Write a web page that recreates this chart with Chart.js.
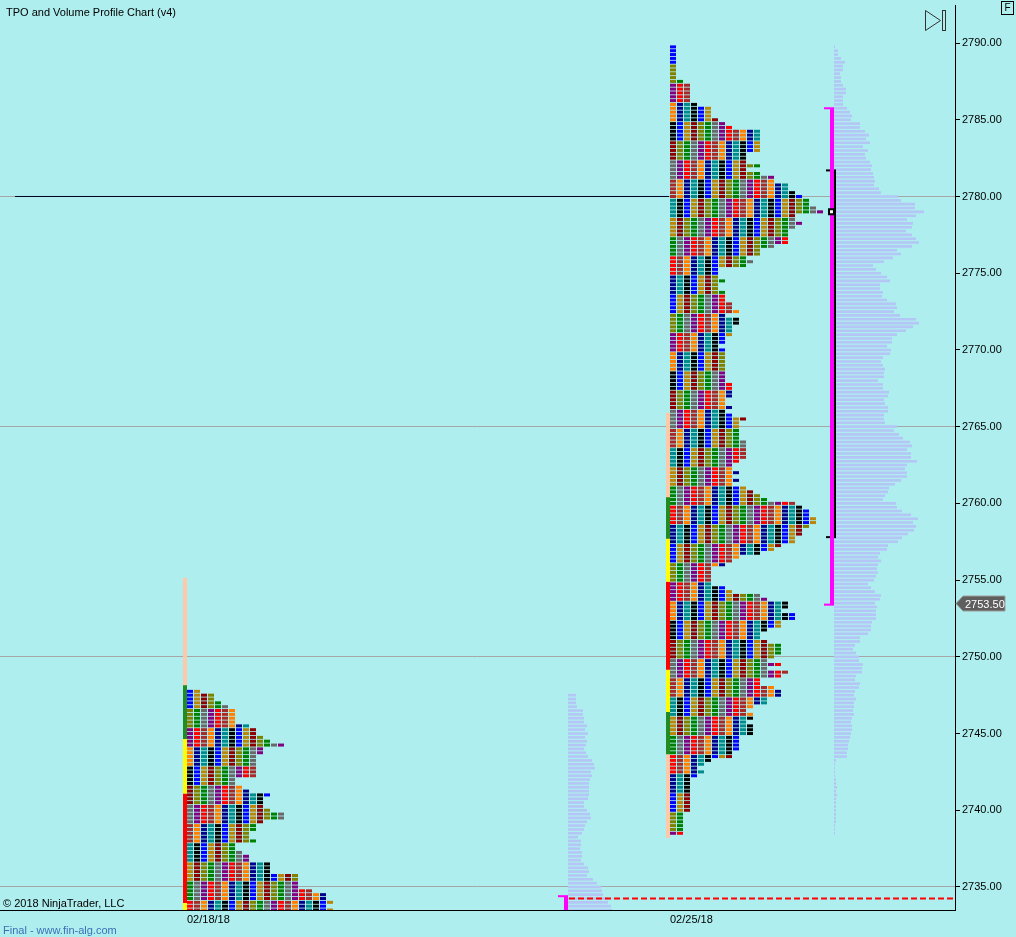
<!DOCTYPE html>
<html>
<head>
<meta charset="utf-8">
<title>TPO and Volume Profile Chart (v4)</title>
<script src="https://cdn.jsdelivr.net/npm/chart.js@4.4.1/dist/chart.umd.min.js"></script>
<style>
  html, body { margin: 0; padding: 0; background: #afeeee; }
  #wrap { position: relative; width: 1016px; height: 937px; }
</style>
</head>
<body>
<div id="wrap"><canvas id="tpo" width="1016" height="937"></canvas></div>
<script>
// ---- data ----
const TICK = 0.25;
const sessionDates = ['02/18/18', '02/25/18'];

// 02/18 session (partly below the visible range)
const leftTpoTop = 2747.75;
const leftTpoCounts = [
  2, 4, 4, 5, 6, 7, 7, 7, 7, 9,
  10, 10, 11, 12, 14, 11, 11, 10, 10, 10,
  10, 10, 10, 7, 7, 8, 9, 12, 11, 11,
  11, 12, 14, 14, 11, 10, 10, 9, 9, 10,
  7, 7, 8, 9, 9, 12, 12, 12, 16, 16,
  16, 16, 18, 20, 20, 21, 20, 21
];
const leftVolTop = 2747.5;
const leftVolume = [
  8, 8, 8, 9, 15, 15, 16, 16, 19, 17,
  20, 17, 19, 18, 16, 18, 20, 24, 26, 27,
  23, 24, 22, 21, 21, 21, 21, 20, 16, 16,
  19, 22, 23, 19, 17, 16, 14, 10, 13, 13,
  12, 14, 14, 13, 16, 20, 21, 19, 25, 29,
  33, 34, 35, 40, 40, 43, 44
];

// 02/25 session
const rightTpoTop = 2789.75;
const rightTpoCounts = [
  1, 1, 1, 1, 1, 1, 1, 1, 1, 2,
  3, 3, 3, 3, 3, 4, 6, 6, 6, 7,
  8, 9, 13, 13, 13, 13, 13, 13, 11, 11,
  11, 13, 11, 13, 15, 15, 17, 17, 18, 19,
  20, 20, 21, 22, 18, 18, 19, 18, 17, 17,
  17, 17, 15, 13, 13, 11, 12, 11, 7, 7,
  7, 8, 7, 7, 8, 8, 8, 9, 9, 10,
  8, 10, 10, 9, 9, 9, 8, 8, 7, 8,
  8, 8, 8, 8, 8, 8, 8, 8, 9, 9,
  9, 9, 8, 8, 9, 8, 9, 11, 10, 10,
  10, 10, 10, 11, 11, 11, 11, 11, 10, 9,
  9, 10, 9, 10, 9, 11, 12, 13, 14, 18,
  19, 20, 20, 21, 21, 20, 19, 19, 18, 18,
  16, 15, 13, 10, 9, 8, 6, 6, 6, 6,
  6, 8, 9, 13, 14, 17, 17, 16, 18, 18,
  16, 16, 14, 13, 13, 14, 16, 16, 16, 15,
  14, 16, 14, 17, 16, 13, 13, 15, 16, 16,
  14, 14, 12, 11, 12, 12, 11, 12, 12, 12,
  10, 10, 10, 10, 9, 9, 6, 5, 4, 5,
  4, 3, 3, 3, 3, 3, 3, 3, 3, 3,
  2, 2, 2, 2, 2, 2
];
const rightVolTop = 2789.75;
const rightVolume = [
  1, 4, 4, 7, 11, 9, 9, 6, 7, 7,
  9, 12, 12, 9, 9, 9, 13, 16, 18, 17,
  26, 26, 31, 35, 32, 36, 29, 34, 31, 32,
  36, 38, 37, 39, 40, 41, 40, 45, 47, 64,
  67, 81, 81, 90, 82, 73, 79, 78, 72, 78,
  82, 85, 78, 63, 67, 59, 50, 39, 42, 47,
  53, 56, 46, 46, 49, 48, 53, 62, 63, 60,
  66, 82, 85, 79, 72, 63, 58, 58, 53, 57,
  56, 49, 47, 49, 51, 50, 50, 44, 49, 49,
  55, 54, 50, 51, 54, 54, 50, 50, 51, 63,
  60, 65, 69, 76, 78, 73, 77, 77, 83, 73,
  71, 73, 73, 67, 61, 55, 54, 51, 49, 62,
  63, 68, 77, 84, 79, 82, 80, 74, 68, 64,
  54, 53, 46, 44, 47, 44, 43, 44, 42, 40,
  34, 37, 41, 47, 46, 41, 43, 42, 42, 42,
  38, 37, 37, 34, 26, 26, 21, 19, 22, 25,
  25, 29, 28, 28, 22, 21, 26, 25, 21, 20,
  22, 20, 20, 19, 20, 18, 17, 18, 18, 17,
  16, 15, 14, 14, 13, 13, 2, 1, 1, 1,
  1, 2, 2, 3, 2, 3, 2, 2, 2, 2,
  2, 2, 2, 1, 1, 1
];

// period bands along the left edge of each profile: [from, to]
const leftBands = [[2755.15, 2747.95], [2748.15, 2744.65], [2744.65, 2741.1], [2741.1, 2733.95], [2733.95, 2733.0]];
const rightBands = [[2765.9, 2738.2], [2760.4, 2757.7], [2757.7, 2754.9], [2754.9, 2749.15], [2749.15, 2746.4], [2746.4, 2743.65]];

const leftValueArea = [2734.4, 2733.0];
const rightValueArea = [2785.75, 2753.4];
const rightInnerArea = [2781.7, 2757.8];
const rightPoc = 2779;
const priorLevel = 2780;
const nakedLevel = 2734.25;
const lastPrice = 2753.5;
const gridPrices = [2735, 2750, 2765, 2780];
const yMin = 2733.5, yMax = 2792.48;

// ---- layout / style ----
const PLOT_W = 955;
const sessionX = [187, 670];
const volumeX = [568, 834];
const COL_W = 7, BLOCK_W = 6;
const VOL_COLOR = '#b3c6f6';
const tpoPalette = ['#0000ff', '#a52a2a', '#808000', '#008b8b', '#800080', '#b8860b', '#ff8000',
  '#008000', '#000000', '#ff0000', '#8b0000', '#00008b', '#696969'];
const leftBandColors = ['#ffc8a8', '#228b22', '#ffff00', '#ff0000', '#ffff00'];
const rightBandColors = ['#ffc8a8', '#228b22', '#ffff00', '#ff0000', '#ffff00', '#228b22'];
const FONT = '"Liberation Sans", Arial, sans-serif';

function tpoBlocks(top, counts, x0) {
  const data = [], colors = [];
  counts.forEach((n, r) => {
    const price = top - r * TICK;
    for (let c = 0; c < n; c++) {
      const left = x0 + c * COL_W;
      data.push({ y: price, x: [left, left + BLOCK_W] });
      colors.push(tpoPalette[(c * 5 + Math.floor(r / 5) * 2) % tpoPalette.length]);
    }
  });
  return { data, colors };
}

function volumeBars(top, vols, x0) {
  return vols.map((v, r) => ({ y: top - r * TICK, x: [x0, x0 + v] }));
}

function segment(label, pts, color, width, order, dash) {
  return {
    type: 'line', label, data: pts,
    borderColor: color, borderWidth: width, borderCapStyle: 'butt',
    borderDash: dash || [], pointRadius: 0, fill: false, tension: 0,
    order, clip: 0
  };
}

function barSet(label, data, colors, thickness, order) {
  return {
    type: 'bar', label, indexAxis: 'y', data,
    backgroundColor: colors, borderWidth: 0, inflateAmount: 0,
    barThickness: thickness, grouped: false, order, clip: 0
  };
}

const leftTpo = tpoBlocks(leftTpoTop, leftTpoCounts, sessionX[0]);
const rightTpo = tpoBlocks(rightTpoTop, rightTpoCounts, sessionX[1]);

const datasets = [];

// POC marker
datasets.push({
  type: 'line', label: 'POC', data: [{ x: volumeX[1] - 2.5, y: rightPoc }],
  showLine: false, pointStyle: 'rect', pointRadius: 3.5,
  pointBackgroundColor: '#ffffff', pointBorderColor: '#000000', pointBorderWidth: 2,
  order: 0, clip: 0
});

// value area brackets
const vaX = volumeX[1] - 2;
datasets.push(segment('VA', [{ x: vaX, y: rightValueArea[0] }, { x: vaX, y: rightValueArea[1] }], '#ff00ff', 4, 1));
datasets.push(segment('VA top', [{ x: vaX - 8, y: rightValueArea[0] }, { x: vaX + 2, y: rightValueArea[0] }], '#ff00ff', 2, 1));
datasets.push(segment('VA bottom', [{ x: vaX - 8, y: rightValueArea[1] }, { x: vaX + 2, y: rightValueArea[1] }], '#ff00ff', 2, 1));
const lvaX = volumeX[0] - 2;
datasets.push(segment('VA L', [{ x: lvaX, y: leftValueArea[0] }, { x: lvaX, y: leftValueArea[1] }], '#ff00ff', 4, 1));
datasets.push(segment('VA L top', [{ x: lvaX - 8, y: leftValueArea[0] }, { x: lvaX + 2, y: leftValueArea[0] }], '#ff00ff', 2, 1));

const inX = volumeX[1] + 1;
datasets.push(segment('IB', [{ x: inX, y: rightInnerArea[0] }, { x: inX, y: rightInnerArea[1] }], '#000000', 2, 2));
datasets.push(segment('IB top', [{ x: inX - 9, y: rightInnerArea[0] }, { x: inX + 1, y: rightInnerArea[0] }], '#000000', 2, 2));
datasets.push(segment('IB bottom', [{ x: inX - 9, y: rightInnerArea[1] }, { x: inX + 1, y: rightInnerArea[1] }], '#000000', 2, 2));

// naked level + prior reference level
datasets.push(segment('naked', [{ x: volumeX[0] + 1, y: nakedLevel }, { x: PLOT_W, y: nakedLevel }], '#ff0000', 2, 3, [6, 3]));
datasets.push(segment('prior', [{ x: 15, y: priorLevel }, { x: sessionX[1] - 1, y: priorLevel }], '#000020', 1, 3));

// period bands
leftBands.forEach((b, k) => {
  datasets.push(segment('band L' + k, [{ x: sessionX[0] - 2, y: b[0] }, { x: sessionX[0] - 2, y: b[1] }],
    leftBandColors[k], 4, k === 0 ? 5 : 4));
});
rightBands.forEach((b, k) => {
  datasets.push(segment('band R' + k, [{ x: sessionX[1] - 2, y: b[0] }, { x: sessionX[1] - 2, y: b[1] }],
    rightBandColors[k], 4, k === 0 ? 5 : 4));
});

// TPO blocks and volume profiles
datasets.push(barSet('TPO 02/18', leftTpo.data, leftTpo.colors, 3, 6));
datasets.push(barSet('TPO 02/25', rightTpo.data, rightTpo.colors, 3, 6));
datasets.push(barSet('Vol 02/18', volumeBars(leftVolTop, leftVolume, volumeX[0]), VOL_COLOR, 2.6, 7));
datasets.push(barSet('Vol 02/25', volumeBars(rightVolTop, rightVolume, volumeX[1]), VOL_COLOR, 2.6, 7));

const decor = {
  id: 'decor',
  afterDraw(chart) {
    const ctx = chart.ctx;
    const area = chart.chartArea;
    const ys = chart.scales.y;
    ctx.save();
    ctx.font = '11px ' + FONT;
    ctx.textBaseline = 'alphabetic';
    ctx.textAlign = 'left';
    ctx.fillStyle = '#000';
    ctx.fillText('TPO and Volume Profile Chart (v4)', 6, 16);
    ctx.fillText('\u00a9 2018 NinjaTrader, LLC', 3, 907);
    ctx.fillStyle = '#3d6fb5';
    ctx.fillText('Final - www.fin-alg.com', 3, 934);

    // last price tag on the axis
    const py = Math.round(ys.getPixelForValue(lastPrice)) + 0.5;
    const r = area.right;
    ctx.beginPath();
    ctx.moveTo(r + 1, py);
    ctx.lineTo(r + 8, py - 7.5);
    ctx.lineTo(r + 50, py - 7.5);
    ctx.lineTo(r + 50, py + 7.5);
    ctx.lineTo(r + 8, py + 7.5);
    ctx.closePath();
    ctx.fillStyle = '#5e5e5e';
    ctx.fill();
    ctx.strokeStyle = '#9c9c9c';
    ctx.lineWidth = 1;
    ctx.stroke();
    ctx.fillStyle = '#ffffff';
    ctx.textBaseline = 'middle';
    ctx.fillText(lastPrice.toFixed(2), r + 10, py + 1);

    // play-to-end icon
    ctx.strokeStyle = '#333';
    ctx.beginPath();
    ctx.moveTo(925.5, 10.5);
    ctx.lineTo(940.5, 20.5);
    ctx.lineTo(925.5, 30.5);
    ctx.closePath();
    ctx.stroke();
    ctx.strokeRect(942.5, 10.5, 3, 20);

    // "F" box
    ctx.strokeStyle = '#000';
    ctx.strokeRect(1001.5, 1.5, 12, 13);
    ctx.fillStyle = '#000';
    ctx.font = '10px ' + FONT;
    ctx.textAlign = 'center';
    ctx.textBaseline = 'middle';
    ctx.fillText('F', 1007.5, 8.5);
    ctx.restore();
  }
};

Chart.defaults.font.family = FONT;
Chart.defaults.font.size = 11;
Chart.defaults.color = '#000';

new Chart(document.getElementById('tpo'), {
  type: 'bar',
  data: { datasets },
  options: {
    responsive: false,
    devicePixelRatio: 1,
    animation: false,
    events: [],
    layout: { autoPadding: false, padding: { top: 5, left: 0, right: 0, bottom: 0 } },
    plugins: { legend: { display: false }, tooltip: { enabled: false } },
    scales: {
      x: {
        type: 'linear', min: 0, max: PLOT_W, offset: false,
        grid: { display: false, drawTicks: false, offset: false },
        border: { display: true, color: '#000', width: 1 },
        afterBuildTicks(scale) { scale.ticks = sessionX.map(v => ({ value: v })); },
        afterFit(scale) { scale.height = 27; scale.paddingLeft = 0; scale.paddingRight = 0; },
        ticks: {
          autoSkip: false, maxRotation: 0, minRotation: 0, align: 'start', padding: 3,
          color: '#000', font: { size: 11 },
          callback: (v, i) => sessionDates[i]
        }
      },
      y: {
        type: 'linear', position: 'right', min: yMin, max: yMax, offset: false,
        grid: {
          color: c => (c.tick && gridPrices.includes(Math.round(c.tick.value))) ? '#a6a6a6' : 'rgba(0,0,0,0)',
          tickColor: '#000', tickLength: 5, drawTicks: true, offset: false
        },
        border: { display: true, color: '#000', width: 1 },
        afterFit(scale) { scale.width = 61; scale.paddingTop = 0; scale.paddingBottom = 0; },
        ticks: {
          stepSize: 5, includeBounds: false, maxTicksLimit: 30, autoSkip: false,
          padding: 2, color: '#000', font: { size: 11 },
          callback: v => v.toFixed(2)
        }
      }
    }
  },
  plugins: [decor]
});
</script>
</body>
</html>
